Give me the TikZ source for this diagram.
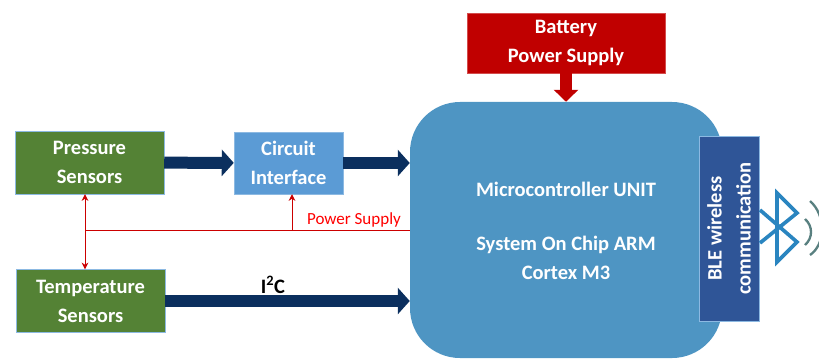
\documentclass[tikz,border=0pt]{standalone}
\usepackage{fontspec}
\setmainfont{Carlito}
\usepackage{tikz}
\usetikzlibrary{arrows.meta}
\definecolor{sensorgreen}{HTML}{548235}
\definecolor{circuitblue}{HTML}{5B9BD5}
\definecolor{mcublue}{HTML}{4E95C3}
\definecolor{bleblue}{HTML}{2F5597}
\definecolor{batteryred}{HTML}{C00000}
\definecolor{busnavy}{HTML}{0B2F5E}
\definecolor{btblue}{HTML}{2A85C0}
\tikzstyle{process} = [rectangle, text centered, align=center, draw=circuitblue!70, text=white, font=\fontsize{17.5}{24.7}\selectfont\bfseries]
\tikzstyle{sensor} = [process, fill=sensorgreen, minimum width=4.47cm, minimum height=1.89cm]
\tikzstyle{bus} = [line width=0.36cm, busnavy, -{Triangle[length=0.36cm,width=0.78cm]}]
\tikzstyle{feed} = [line width=0.36cm, batteryred, -{Triangle[length=0.36cm,width=0.72cm]}]
\tikzstyle{power} = [thick, red!80!black, -{Stealth[length=0.2cm,width=0.2cm]}]
\begin{document}
\begin{tikzpicture}[x=0.03cm,y=-0.03cm,node distance=4.155cm]
\useasboundingbox (0,0) rectangle (819,361);

\node (pressure) [sensor] at (89.5,162.5) {Pressure\\Sensors};

\node (temp) [sensor, below of=pressure, xshift=0.03cm] {Temperature\\Sensors};

\node (circuit) [process, fill=circuitblue, minimum width=3.27cm, minimum height=1.86cm] at (288.5,163) {Circuit\\Interface};

\node (mcu) [process, fill=mcublue, draw=none, rounded corners=1.5cm, minimum width=9.36cm, minimum height=7.68cm] at (566,230) {};

\node (mcutext) [process, draw=none] at (566,231) {Microcontroller UNIT\\[0.75cm]System On Chip ARM\\Cortex M3};

\node (ble) [process, fill=bleblue, rotate=90, minimum width=5.55cm, minimum height=1.8cm] at (729,228.5) {BLE wireless\\communication};

\node (battery) [process, fill=batteryred, draw=batteryred!70, minimum width=5.94cm, minimum height=1.8cm] at (566,43) {Battery\\Power Supply};

\node (i2c) [font=\fontsize{17.5}{20}\selectfont\bfseries] at (273,285) {I\textsuperscript{2}C};

\node (supply) [text=red, font=\fontsize{14.5}{16}\selectfont] at (354,220) {Power Supply};

\coordinate (junction) at (85,230);
\coordinate (tap) at (292,230);

\draw [bus] (pressure) -- (circuit);
\draw [bus] (circuit.east) -- (circuit.east -| mcu.west);
\draw [bus] (temp.east) -- (temp.east -| mcu.west);
\draw [feed] (battery) -- (mcu);
\draw [thick, red!80!black] (junction) -- (junction -| mcu.west);
\draw [power] (junction) -- (junction |- pressure.south);
\draw [power] (junction) -- (junction |- temp.north);
\draw [power] (tap) -- (tap |- circuit.south);

\draw [btblue, line width=0.11cm, line join=miter] (760,210) -- (797,242) -- (777,262) -- (777,193) -- (797,213) -- (760,243);
\draw [gray!70!teal, line width=0.07cm] (805,219) .. controls (813,226) and (813,238) .. (805,245);
\draw [gray!70!teal, line width=0.07cm] (810,201) .. controls (826,215) and (826,244) .. (810,255);

\end{tikzpicture}
\end{document}
